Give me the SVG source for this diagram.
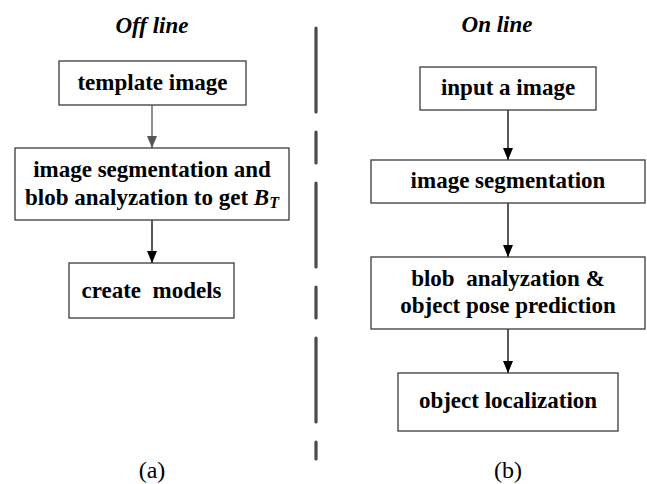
<svg xmlns="http://www.w3.org/2000/svg" width="647" height="484" viewBox="0 0 647 484">
<style>
.box{fill:#fff;stroke:#3a3a3a;stroke-width:1.3}
.e{stroke:#000;stroke-width:1.3;fill:none}
</style>
<defs>
<marker id="ab" markerWidth="10" markerHeight="12" refX="5" refY="12" markerUnits="userSpaceOnUse" viewBox="0 0 10 12"><path d="M0,0 L10,0 L5,12 Z" fill="#000"/></marker>
<marker id="ag" markerWidth="10" markerHeight="12" refX="5" refY="12" markerUnits="userSpaceOnUse" viewBox="0 0 10 12"><path d="M0,0 L10,0 L5,12 Z" fill="#555"/></marker>
</defs>
<text font-family="Liberation Serif" font-weight="bold" font-style="italic" font-size="23" text-anchor="middle" x="152" y="33">Off line</text>
<text font-family="Liberation Serif" font-weight="bold" font-style="italic" font-size="23" text-anchor="middle" x="497" y="32">On line</text>
<line x1="316" y1="28" x2="316" y2="462" stroke="#4a4a4a" stroke-width="3.2" stroke-linecap="round" stroke-dasharray="84 20 31 20 84 20 31 20 84 20 17 100"/>
<g id="connectors">
<line class="e" x1="152" y1="105" x2="152" y2="148" marker-end="url(#ag)" style="stroke:#555"/>
<line class="e" x1="152" y1="220" x2="152" y2="263" marker-end="url(#ab)"/>
<line class="e" x1="508" y1="110" x2="508" y2="160" marker-end="url(#ab)"/>
<line class="e" x1="508" y1="203" x2="508" y2="257" marker-end="url(#ab)"/>
<line class="e" x1="508" y1="329" x2="508" y2="373" marker-end="url(#ab)"/>
</g>
<g id="template">
<rect class="box" x="59" y="61" width="187" height="44"/>
<text font-family="Liberation Serif" font-weight="bold" font-size="23" text-anchor="middle" x="152.5" y="90">template image</text>
</g>
<g id="segblob">
<rect class="box" x="15" y="148" width="274" height="72"/>
<text font-family="Liberation Serif" font-weight="bold" font-size="23" text-anchor="middle" x="152" y="177">image segmentation and</text>
<text font-family="Liberation Serif" font-weight="bold" font-size="23" text-anchor="middle" x="152" y="205">blob analyzation to get <tspan font-style="italic">B</tspan><tspan font-style="italic" font-size="16" dy="3">T</tspan></text>
</g>
<g id="models">
<rect class="box" x="69" y="263" width="165" height="55"/>
<text font-family="Liberation Serif" font-weight="bold" font-size="23" text-anchor="middle" x="151.5" y="298" xml:space="preserve">create  models</text>
</g>
<g id="input">
<rect class="box" x="420" y="67" width="176" height="43"/>
<text font-family="Liberation Serif" font-weight="bold" font-size="23" text-anchor="middle" x="508" y="95">input a image</text>
</g>
<g id="seg">
<rect class="box" x="371" y="160" width="274" height="43"/>
<text font-family="Liberation Serif" font-weight="bold" font-size="23" text-anchor="middle" x="508" y="188">image segmentation</text>
</g>
<g id="blob">
<rect class="box" x="371" y="257" width="274" height="72"/>
<text font-family="Liberation Serif" font-weight="bold" font-size="23" text-anchor="middle" x="508" y="286" xml:space="preserve">blob  analyzation &amp;</text>
<text font-family="Liberation Serif" font-weight="bold" font-size="23" text-anchor="middle" x="508" y="313">object pose prediction</text>
</g>
<g id="loc">
<rect class="box" x="398" y="373" width="220" height="58"/>
<text font-family="Liberation Serif" font-weight="bold" font-size="23" text-anchor="middle" x="508" y="408">object localization</text>
</g>
<text font-family="Liberation Serif" font-size="24" text-anchor="middle" x="152" y="478">(a)</text>
<text font-family="Liberation Serif" font-size="24" text-anchor="middle" x="508" y="478">(b)</text>
</svg>
